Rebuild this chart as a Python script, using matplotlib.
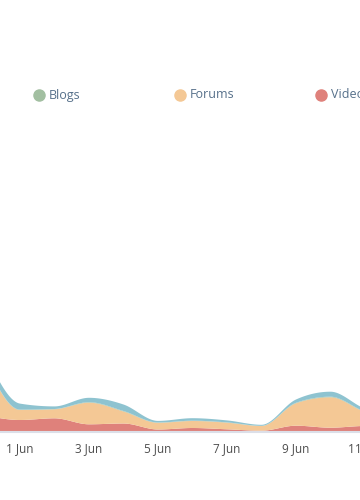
import numpy as np
import matplotlib
matplotlib.use('Agg')
import matplotlib.pyplot as plt
from matplotlib.lines import Line2D

# days counted from 1 Jun (31 May .. 12 Jun)
days = [-1, 0, 1, 2, 3, 4, 5, 6, 7, 8, 9, 10, 11]
tick_days = [0, 2, 4, 6, 8, 10]
tick_labels = ['1 Jun', '3 Jun', '5 Jun', '7 Jun', '9 Jun', '11 Jun']

video = [16.5, 12.0, 13.7, 7.7, 8.5, 2.5, 4.0, 2.7, 1.3, 6.3, 4.3, 6.0, 5.0]
forums = [53.4, 10.0, 9.0, 21.6, 12.0, 6.7, 7.0, 6.6, 4.7, 22.4, 30.4, 14.0, 8.0]
blogs = [0.6, 0.4, 0.3, 0.5, 0.5, 0.3, 0.3, 0.3, 0.2, 0.5, 0.6, 0.4, 0.3]
news = [8.1, 6.0, 2.6, 4.4, 6.5, 1.6, 2.5, 2.0, 1.0, 3.3, 5.0, 3.0, 3.0]

series = ['Blogs', 'Forums', 'Videos', 'News']
colors = {'Blogs': '#a2bfa1', 'Forums': '#f4c895', 'Videos': '#df817b', 'News': '#8ec3d0'}


# monotone cubic curve through the points (like d3 curveMonotoneX)
def monotone(x, y, n=40):
    x = np.asarray(x, float)
    y = np.asarray(y, float)
    h = np.diff(x)
    s = np.diff(y) / h
    m = np.zeros_like(y)
    for i in range(1, len(y) - 1):
        p = (s[i - 1] * h[i] + s[i] * h[i - 1]) / (h[i - 1] + h[i])
        m[i] = (np.sign(s[i - 1]) + np.sign(s[i])) * min(abs(s[i - 1]), abs(s[i]), 0.5 * abs(p))
    m[0] = (3 * s[0] - m[1]) / 2 if len(y) > 2 else s[0]
    m[-1] = (3 * s[-1] - m[-2]) / 2
    xs, ys = [], []
    for i in range(len(h)):
        t = np.linspace(0, 1, n, endpoint=False)
        h00 = 2 * t**3 - 3 * t**2 + 1
        h10 = t**3 - 2 * t**2 + t
        h01 = -2 * t**3 + 3 * t**2
        h11 = t**3 - t**2
        xs.append(x[i] + t * h[i])
        ys.append(h00 * y[i] + h10 * h[i] * m[i] + h01 * y[i + 1] + h11 * h[i] * m[i + 1])
    xs.append([x[-1]])
    ys.append([y[-1]])
    return np.concatenate(xs), np.concatenate(ys)


plt.rcParams['font.family'] = ['Open Sans', 'DejaVu Sans']

fig = plt.figure(figsize=(3.6, 5), dpi=100)
# axes wider than the picture, so the chart looks cropped at both sides
left_px = 20 - 34.5 * 1.5
ax = fig.add_axes([left_px / 360, 68 / 500, 34.5 * 13 / 360, 300 / 500])

layers = [('Videos', video), ('Forums', forums), ('Blogs', blogs), ('News', news)]
base = np.zeros(len(days))
for name, vals in layers:
    top = base + np.array(vals)
    xs, y0 = monotone(days, base)
    _, y1 = monotone(days, top)
    ax.fill_between(xs, y0, y1, color=colors[name], lw=0)
    base = top

ax.set_xlim(-1.5, 11.5)
ax.set_ylim(0, 300)
for side in ['top', 'right', 'left']:
    ax.spines[side].set_visible(False)
ax.spines['bottom'].set_color('#dcdfe8')
ax.spines['bottom'].set_linewidth(1.5)
ax.set_yticks([])
ax.set_xticks(tick_days)
ax.set_xticklabels(tick_labels)
ax.tick_params(axis='x', length=0, pad=7, labelsize=8.5, labelcolor='#4d4d4d')

# legend row
for i, name in enumerate(series):
    x = (39 + 141 * i) / 360
    y = 1 - 95 / 500
    fig.add_artist(Line2D([x], [y], marker='o', markersize=8, color=colors[name],
                          lw=0, transform=fig.transFigure))
    fig.text(x + 10 / 360, y, name, fontsize=9, color='#56708a', va='center', ha='left')

fig.savefig('out.png', dpi=100)
